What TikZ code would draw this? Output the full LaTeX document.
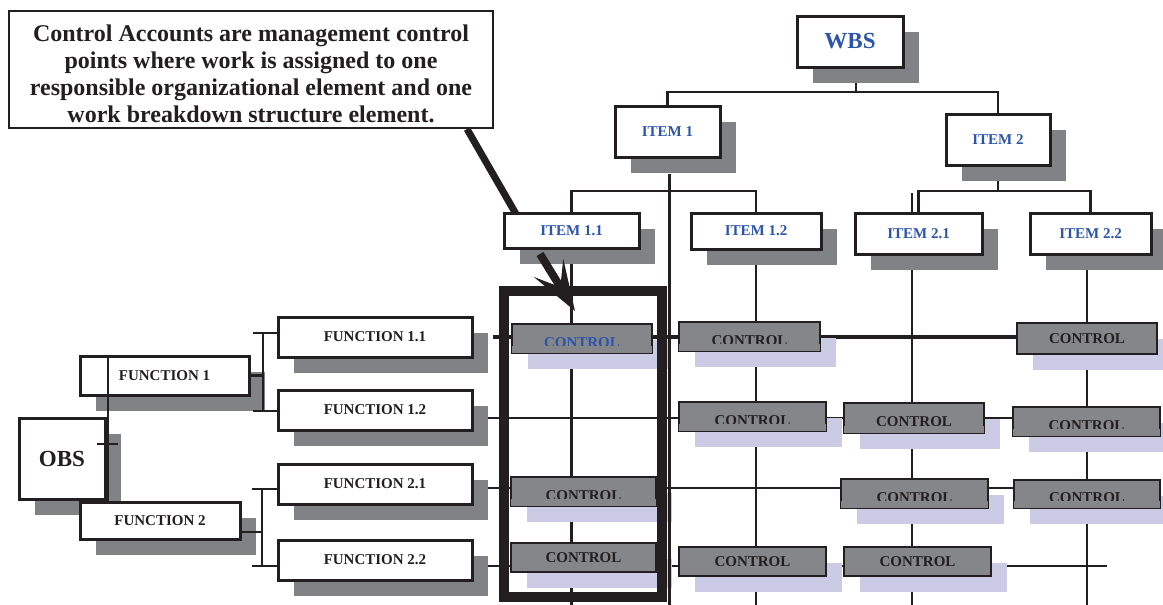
\documentclass[tikz,border=0pt]{standalone}
\usepackage{fontspec}
\setmainfont{Liberation Serif}
\usetikzlibrary{arrows.meta,shadows}
\pgfdeclarelayer{bg}
\pgfdeclarelayer{fg}
\pgfsetlayers{bg,main,fg}
\definecolor{ink}{HTML}{231F20}
\definecolor{shgray}{HTML}{808285}
\definecolor{ctgray}{HTML}{85868A}
\definecolor{lav}{HTML}{CCCBE6}
\definecolor{blu}{HTML}{2C55A8}
\newcommand\cutctl[1]{\fill[ctgray] ([shift={(1.2pt,1.2pt)}]#1.south west) rectangle ([shift={(-1.2pt,8pt)}]#1.south east);}
\begin{document}
\begin{tikzpicture}[x=1pt,y=-1pt,
  ln/.style={draw=ink,line width=2.8pt},
  lbl/.style={font=\bfseries\fontsize{15}{18}\selectfont},
  big/.style={font=\bfseries\fontsize{23}{26}\selectfont},
  wb/.style={draw=ink,fill=white,line width=3pt,inner sep=0pt,lbl,text=ink,
    general shadow={fill=shgray,shadow xshift=16pt,shadow yshift=-16pt}},
  ctl/.style={draw=ink,fill=ctgray,line width=2.4pt,inner sep=0pt,lbl,text=ink,
    text height=10pt,text depth=0pt,
    general shadow={fill=lav,shadow xshift=16pt,shadow yshift=-16pt}},
  cut/.style={text height=17pt}]
\useasboundingbox (0,0) rectangle (1163,605);

% ---------- coordinates ----------
\coordinate (bot) at (0,605);
\coordinate (ptA) at (467,129);
\coordinate (ptB) at (516,214);
\coordinate (wj) at (856,92);
\coordinate (ij1) at (669.5,191);
\coordinate (ij2) at (998,191);
\coordinate (c21t) at (912,193);
\coordinate (c22t) at (1087,256);
\coordinate (c1t) at (669.5,174);
\coordinate (r1a) at (493,337);
\coordinate (r2) at (0,418);
\coordinate (r3) at (0,488);
\coordinate (r4) at (0,566);
\coordinate (r4e) at (1107,566);
\coordinate (t1) at (263,333);
\coordinate (t2) at (263,411);
\coordinate (t3) at (262,489);
\coordinate (t4) at (262,566);
\coordinate (t5) at (262,532);
\coordinate (ob) at (108,444);
\coordinate (arA) at (540,254);
\coordinate (arB) at (575,311);

% ---------- nodes ----------
\node[draw=ink,fill=white,line width=2.5pt,minimum width=484,minimum height=117,inner sep=0pt] (note) at (251,69.5) {};
\node[font=\bfseries\fontsize{24}{27}\selectfont,align=center,text=ink,inner sep=0pt] (notetext) at (251,74)
 {Control Accounts are management control\\points where work is assigned to one\\responsible organizational element and one\\work breakdown structure element.};

\node[wb,big,text=blu,minimum width=106,minimum height=51] (wbs) at (850,41.5) {WBS};
\node[wb,text=blu,minimum width=105,minimum height=51] (item1) at (667.5,131.5) {ITEM 1};
\node[wb,text=blu,minimum width=104,minimum height=51] (item2) at (998,139.5) {ITEM 2};
\node[wb,text=blu,minimum width=135,minimum height=35] (item11) at (571.5,230.5) {ITEM 1.1};
\node[wb,text=blu,minimum width=130,minimum height=36] (item12) at (756,231) {ITEM 1.2};
\node[wb,text=blu,minimum width=127,minimum height=41] (item21) at (918.5,233.5) {ITEM 2.1};
\node[wb,text=blu,minimum width=121,minimum height=41] (item22) at (1090.5,233.5) {ITEM 2.2};

\node[wb,big,minimum width=86,minimum height=81] (obs) at (62,458.5) {OBS};
\node[wb,minimum width=169,minimum height=39] (f1) at (164.5,375.5) {FUNCTION 1};
\node[wb,minimum width=160,minimum height=37] (f2) at (160,520.5) {FUNCTION 2};
\node[wb,minimum width=194,minimum height=40] (f11) at (375,337) {FUNCTION 1.1};
\node[wb,minimum width=194,minimum height=40] (f12) at (375,410) {FUNCTION 1.2};
\node[wb,minimum width=194,minimum height=40] (f21) at (375,484) {FUNCTION 2.1};
\node[wb,minimum width=194,minimum height=40] (f22) at (375,560) {FUNCTION 2.2};

\node[ctl,cut,text=blu,minimum width=140,minimum height=29] (k11) at (582,338.5) {CONTROL};
\node[ctl,cut,minimum width=141,minimum height=29] (k12) at (749.5,336.5) {CONTROL};
\node[ctl,minimum width=140,minimum height=31] (k14) at (1087,338.5) {CONTROL};
\node[ctl,cut,minimum width=147,minimum height=29] (k22) at (752.5,416.5) {CONTROL};
\node[ctl,cut,minimum width=140,minimum height=30] (k23) at (914,418) {CONTROL};
\node[ctl,cut,minimum width=147,minimum height=29] (k24) at (1086.5,421.5) {CONTROL};
\node[ctl,cut,minimum width=145,minimum height=29] (k31) at (583.5,491.5) {CONTROL};
\node[ctl,cut,minimum width=147,minimum height=29] (k33) at (914.5,493.5) {CONTROL};
\node[ctl,cut,minimum width=146,minimum height=28] (k34) at (1087,494) {CONTROL};
\node[ctl,minimum width=145,minimum height=29] (k41) at (583.5,557.5) {CONTROL};
\node[ctl,minimum width=147,minimum height=29] (k42) at (752.5,561.5) {CONTROL};
\node[ctl,minimum width=147,minimum height=29] (k43) at (917.5,561.5) {CONTROL};

\cutctl{k11}\cutctl{k12}\cutctl{k22}\cutctl{k23}\cutctl{k24}
\cutctl{k31}\cutctl{k33}\cutctl{k34}

% ---------- background connectors ----------
\begin{pgfonlayer}{bg}
\draw[draw=ink,line width=7pt] (ptA) -- (ptB);
\draw[ln] (wbs.south -| wj) -- (wj);
\draw[ln] (item1.north) |- (wj) -| (item2.north);
\draw[ln] (item11.north) |- (ij1) -| (item12.north);
\draw[ln] (item2.south) -- (ij2);
\draw[ln] (item21.north) |- (ij2) -| (item22.north);
\draw[ln] (item11.south) -- (item11.south |- bot);
\draw[ln] (item12.south) -- (item12.south |- bot);
\draw[ln] (c21t) -- (c21t |- bot);
\draw[ln] (c22t) -- (c22t |- bot);
\draw[draw=ink,line width=4.5pt] (r1a) -- (r1a -| k14.west);
\draw[ln] (f12.east |- r2) -- (k24.west |- r2);
\draw[ln] (f21.east |- r3) -- (k34.west |- r3);
\draw[ln] (f22.east |- r4) -- (r4e);
\end{pgfonlayer}

% ---------- foreground ----------
\begin{pgfonlayer}{fg}
\draw[ln] (c1t) -- (c1t |- bot);
\node[draw=ink,line width=10pt,minimum width=157.5,minimum height=306,inner sep=0pt] (ca) at (582.75,444) {};
\draw[draw=ink,line width=8pt,-{Stealth[length=50pt,width=34pt,inset=22pt]}] (arA) -- (arB);
\draw[ln] (f1.east) -- (f1.east -| t1);
\draw[ln] (t1) -- (t2);
\draw[ln] ([xshift=-10pt]t1) -- (t1 -| f11.west);
\draw[ln] ([xshift=-10pt]t2) -- (t2 -| f12.west);
\draw[ln] (f2.east |- t5) -- (t5);
\draw[ln] (t3) -- (t4);
\draw[ln] ([xshift=-10pt]t3) -- (t3 -| f21.west);
\draw[ln] ([xshift=-10pt]t4) -- (t4 -| f22.west);
\draw[ln] (f1.north -| ob) -- (f2.north -| ob);
\draw[ln] ([xshift=-11pt]ob) -- ([xshift=10pt]ob);
\end{pgfonlayer}
\end{tikzpicture}
\end{document}
